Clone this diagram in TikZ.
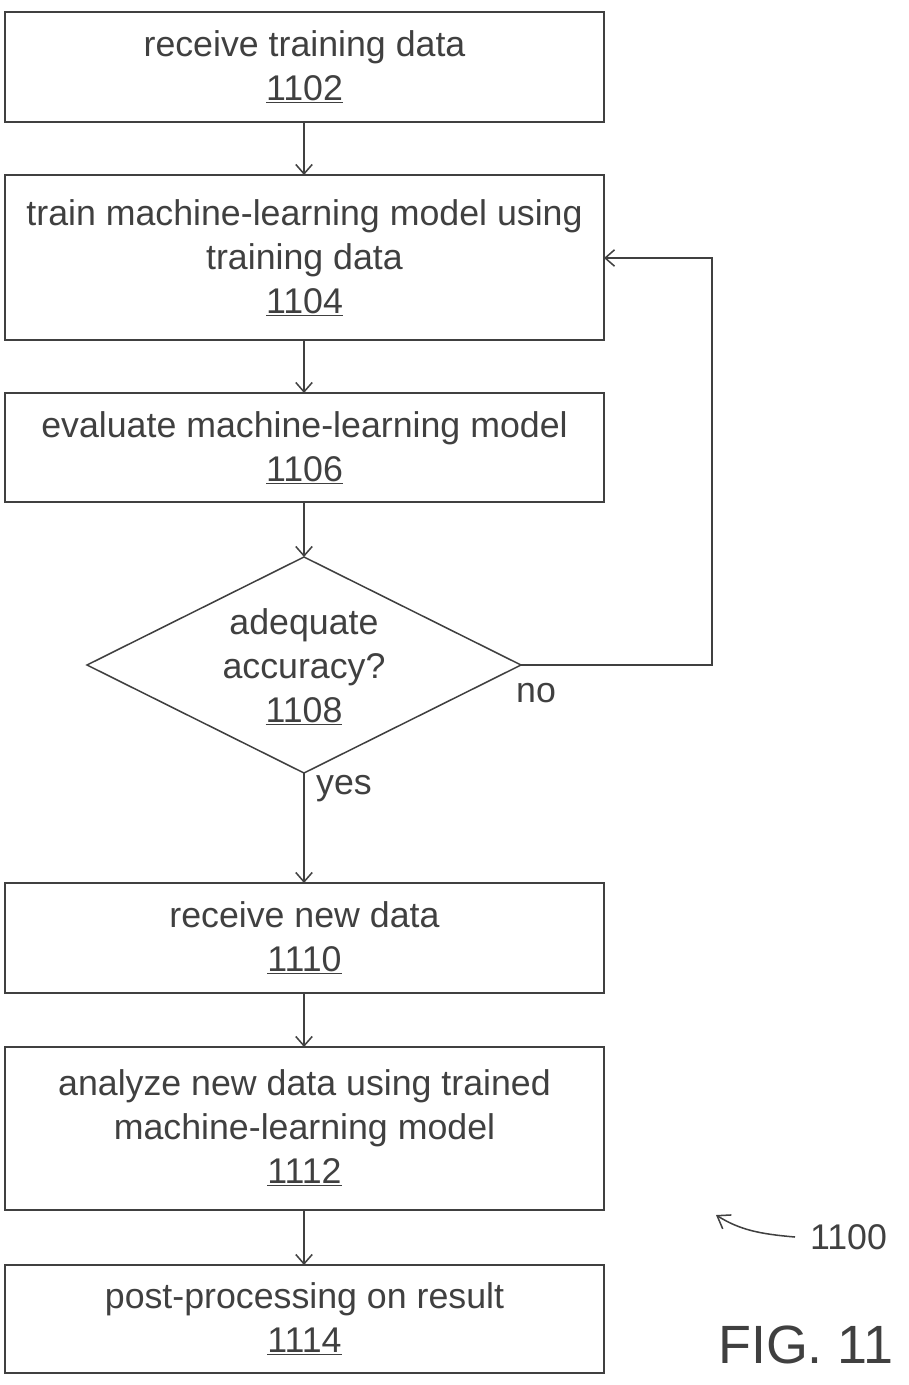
\documentclass[tikz,border=0pt]{standalone}
\usepackage{fontspec}
\setmainfont{Liberation Sans}
\usetikzlibrary{arrows.meta}
\definecolor{ink}{gray}{0.25}
\begin{document}
\begin{tikzpicture}[x=0.03cm,y=-0.03cm,
  box/.style={draw=ink,line width=1.3pt,inner sep=0pt},
  txt/.style={text=ink,align=center,font=\fontsize{30.5}{37.5}\selectfont},
  arr/.style={draw=ink,line width=1.3pt,-{Straight Barb[length=8pt,width=14pt]}}]
\useasboundingbox (0,0) rectangle (909,1385);
\draw[box] (5,12) rectangle (604,122);
\node[txt] (t1) at (304.5,67) {receive training data\\\underline{1102}};
\coordinate (b1t) at (304,12); \coordinate (b1b) at (304,122);
\draw[box] (5,175) rectangle (604,340);
\node[txt] (t2) at (304.5,258) {train machine-learning model using\\training data\\\underline{1104}};
\coordinate (b2t) at (304,175); \coordinate (b2b) at (304,340); \coordinate (b2r) at (604,258);
\draw[box] (5,393) rectangle (604,502);
\node[txt] (t3) at (304.5,448) {evaluate machine-learning model\\\underline{1106}};
\coordinate (b3t) at (304,393); \coordinate (b3b) at (304,502);
\draw[box] (304,557) -- (521,665) -- (304,773) -- (87,665) -- cycle;
\node[txt] (t4) at (304,667) {adequate\\accuracy?\\\underline{1108}};
\coordinate (dt) at (304,557); \coordinate (db) at (304,773); \coordinate (dr) at (521,665);
\draw[box] (5,883) rectangle (604,993);
\node[txt] (t5) at (304.5,938) {receive new data\\\underline{1110}};
\coordinate (b5t) at (304,883); \coordinate (b5b) at (304,993);
\draw[box] (5,1047) rectangle (604,1210);
\node[txt] (t6) at (304.5,1128) {analyze new data using trained\\machine-learning model\\\underline{1112}};
\coordinate (b6t) at (304,1047); \coordinate (b6b) at (304,1210);
\draw[box] (5,1265) rectangle (604,1373);
\node[txt] (t7) at (304.5,1319) {post-processing on result\\\underline{1114}};
\coordinate (b7t) at (304,1265);
\draw[arr] (b1b) -- (b2t);
\draw[arr] (b2b) -- (b3t);
\draw[arr] (b3b) -- (dt);
\draw[arr] (db) -- (b5t);
\draw[arr] (b5b) -- (b6t);
\draw[arr] (b6b) -- (b7t);
\draw[arr] (dr) -- (712,665) -- (712,258) -- (b2r);
\node[txt,anchor=west] (no) at (512,693) {no};
\node[txt,anchor=west] (yes) at (312,789) {yes};
\node[txt,anchor=west] (n1100) at (806,1237) {1100};
\coordinate (c1) at (795,1237); \coordinate (c2) at (716,1215);
\draw[draw=ink,line width=1.3pt,-{Straight Barb[length=10pt,width=14pt]}] (c1) .. controls (760,1234) and (740,1230) .. (c2);
\node[txt,anchor=west,font=\fontsize{46}{50}\selectfont] (fig) at (714,1345) {FIG. 11};
\end{tikzpicture}
\end{document}
